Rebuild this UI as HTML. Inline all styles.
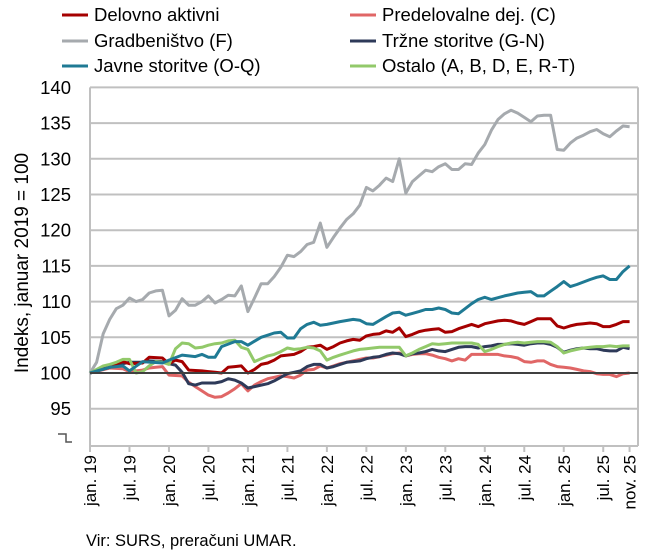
<!DOCTYPE html>
<html><head><meta charset="utf-8"><style>
body{margin:0;background:#fff;}
svg{display:block;font-family:"Liberation Sans",sans-serif;}
</style></head><body>
<svg id="s" width="651" height="556" viewBox="0 0 651 556" xmlns="http://www.w3.org/2000/svg">
<g font-size="18.5" fill="#000">
<line x1="62" y1="15" x2="88" y2="15" stroke="#a50000" stroke-width="3"/><text x="94" y="21">Delovno aktivni</text>
<line x1="350" y1="15" x2="376" y2="15" stroke="#e06666" stroke-width="3"/><text x="382" y="21">Predelovalne dej. (C)</text>
<line x1="62" y1="41" x2="88" y2="41" stroke="#a6aaae" stroke-width="3"/><text x="94" y="47">Gradbeništvo (F)</text>
<line x1="350" y1="41" x2="376" y2="41" stroke="#2e3a59" stroke-width="3"/><text x="382" y="47">Tržne storitve (G-N)</text>
<line x1="62" y1="66" x2="88" y2="66" stroke="#1f7a94" stroke-width="3"/><text x="94" y="72">Javne storitve (O-Q)</text>
<line x1="350" y1="66" x2="376" y2="66" stroke="#92c96a" stroke-width="3"/><text x="382" y="72">Ostalo (A, B, D, E, R-T)</text>
</g>
<g id="grid" stroke="#c0c0c0" stroke-width="2"></g>
<g id="ylab" font-size="18.5" text-anchor="end"></g>
<text transform="translate(28,263) rotate(-90)" font-size="19" text-anchor="middle">Indeks, januar 2019 = 100</text>
<path d="M58,434 L66,434 L66,442 L72,442" fill="none" stroke="#555" stroke-width="1.5"/>
<g id="series" fill="none" stroke-width="3" stroke-linejoin="round"></g>
<line x1="90" y1="373" x2="638" y2="373" stroke="#404040" stroke-width="2"/>
<g id="xlab" font-size="17"></g>
<text x="86" y="546" font-size="16.5">Vir: SURS, preračuni UMAR.</text>
</svg>
<script>
const NS="http://www.w3.org/2000/svg";
const X0=90,DX=6.58,Y100=373,K=7.14;
const X=m=>X0+m*DX, Y=v=>Y100-(v-100)*K;
function el(p,tag,a,t){const e=document.createElementNS(NS,tag);for(const k in a)e.setAttribute(k,a[k]);if(t)e.textContent=t;p.appendChild(e);return e;}
const grid=document.getElementById('grid'),yl=document.getElementById('ylab');
for(let v=95;v<=140;v+=5){el(grid,'line',{x1:90,x2:638,y1:Y(v),y2:Y(v)});el(yl,'text',{x:71,y:Y(v)+6.5},String(v));}
el(grid,'line',{x1:90,x2:90,y1:Y(140),y2:446});
el(grid,'line',{x1:638,x2:638,y1:Y(140),y2:446});
el(grid,'line',{x1:90,x2:638,y1:446,y2:446});
const xl=document.getElementById('xlab');
const labs=[];for(let y=19;y<=25;y++){labs.push([ (y-19)*12,'jan. '+y]);labs.push([(y-19)*12+6,'jul. '+y]);}
labs.push([82,'nov. 25']);
labs.forEach(([m,t])=>{el(grid,'line',{x1:X(m),x2:X(m),y1:446,y2:452});el(xl,'text',{transform:`translate(${X(m)+6},455) rotate(-90)`,'text-anchor':'end'},t);});
function S(str){const o={};str.trim().split(/[,\s]+/).forEach(p=>{const [a,b]=p.split(':');o[+a]=+b;});const ks=Object.keys(o).map(Number).sort((a,b)=>a-b);const r=[];for(let m=0;m<=82;m++){let i=ks.findIndex(k=>k>=m);if(ks[i]===m){r.push(o[m]);continue;}const a=ks[i-1],b=ks[i];r.push(o[a]+(o[b]-o[a])*(m-a)/(b-a));}return r;}
const data=[
["#e06666","0:100,3:100.7,5:100.6,6:100.2,8:100.4,9:100.7,11:100.9,12:99.7,14:99.6,15:98.7,17:97.5,18:96.9,19:96.6,20:96.7,21:97.2,22:97.8,23:98.5,24:97.5,25:98.3,26:98.8,27:99.2,28:99.4,29:99.6,30:99.5,31:99.3,32:99.7,33:100.4,34:100.5,35:101,36:100.7,37:101,38:101.3,39:101.5,40:101.7,41:101.9,42:102.1,43:102.1,44:102.3,45:102.5,46:102.7,47:102.8,48:102.4,49:102.6,50:102.7,51:102.7,52:102.5,53:102.2,54:102,55:101.7,56:102,57:101.8,58:102.6,59:102.6,60:102.6,61:102.6,62:102.6,63:102.4,64:102.3,65:102.1,66:101.6,67:101.5,68:101.7,69:101.7,70:101.2,71:100.9,72:100.8,73:100.7,74:100.5,75:100.3,76:100.2,77:99.9,78:99.8,79:99.8,80:99.5,81:99.9,82:100"],
["#a6aaae","0:100,1:101.5,2:105.5,3:107.5,4:109,5:109.5,6:110.5,7:110,8:110.3,9:111.2,10:111.5,11:111.6,12:108,13:108.8,14:110.4,15:109.5,16:109.5,17:110,18:110.8,19:109.8,20:110.3,21:110.9,22:110.8,23:112.2,24:108.6,25:110.5,26:112.5,27:112.5,28:113.5,29:114.8,30:116.5,31:116.3,32:117,33:118,34:118.3,35:121,36:117.6,37:119,38:120.3,39:121.5,40:122.3,41:123.5,42:126,43:125.5,44:126.3,45:127.3,46:126.8,47:130,48:125.2,49:126.8,50:127.6,51:128.4,52:128.2,53:128.9,54:129.3,55:128.5,56:128.5,57:129.3,58:129.2,59:130.8,60:132,61:134,62:135.5,63:136.3,64:136.8,65:136.4,66:135.8,67:135.2,68:136,69:136.1,70:136.1,71:131.3,72:131.2,73:132.2,74:132.9,75:133.3,76:133.8,77:134.1,78:133.5,79:133.1,80:133.9,81:134.6,82:134.5"],
["#2e3a59","0:100,3:100.8,5:101.3,6:101.5,8:101.5,9:101.7,11:101.6,12:101.3,13:101.1,14:100.1,15:98.5,16:98.3,17:98.6,19:98.6,20:98.8,21:99.2,22:99,23:98.6,24:97.9,26:98.3,27:98.5,28:98.9,29:99.4,30:99.9,31:100.1,32:100.3,33:100.9,34:101.2,35:101.2,36:100.7,37:100.9,38:101.2,39:101.5,40:101.6,41:101.7,42:102,43:102.2,44:102.3,45:102.6,46:102.8,47:102.7,48:102.4,49:102.7,50:102.8,51:103,52:103.3,53:103.1,54:103,55:103.3,56:103.6,57:103.7,58:103.7,59:103.5,60:103.7,61:103.8,62:104,63:104,64:104.1,65:104,66:103.9,67:104.1,68:104.2,69:104.2,70:104,71:103.6,72:102.9,73:103.2,74:103.4,75:103.5,76:103.4,77:103.4,78:103.2,79:103.1,80:103.1,81:103.6,82:103.4"],
["#a50000","0:100,3:101,5:101.6,6:101.3,8:101.4,9:102.2,11:102.1,12:101.3,13:101.8,14:101.6,15:100.4,17:100.3,19:100.1,20:100,21:100.8,22:100.9,23:101,24:100,25:100.5,26:101.2,27:101.4,28:101.8,29:102.4,30:102.5,31:102.6,32:103,33:103.6,34:103.7,35:103.9,36:103.3,37:103.7,38:104.2,39:104.5,40:104.7,41:104.6,42:105.2,43:105.4,44:105.5,45:105.9,46:105.7,47:106.3,48:105.1,49:105.4,50:105.8,51:106,52:106.1,53:106.2,54:105.7,55:105.8,56:106.2,57:106.5,58:106.8,59:106.5,60:106.9,61:107.1,62:107.3,63:107.4,64:107.3,65:107,66:106.8,67:107.2,68:107.6,69:107.6,70:107.6,71:106.6,72:106.3,73:106.6,74:106.8,75:106.9,76:107,77:106.9,78:106.5,79:106.5,80:106.8,81:107.2,82:107.2"],
["#92c96a","0:100,2:101,3:101.2,4:101.5,5:101.9,6:101.9,7:100,8:100.2,9:101,10:101.6,11:101.5,12:101.2,13:103.4,14:104.2,15:104.1,16:103.5,17:103.6,18:103.9,19:104.1,20:104.2,21:104.5,22:104.6,23:103.6,24:103.3,25:101.6,26:102,27:102.4,28:102.6,29:103,30:103.5,31:103.3,32:103.4,33:103.6,34:103.5,35:103.1,36:101.8,37:102.2,38:102.5,39:102.8,40:103.1,41:103.3,42:103.4,43:103.5,44:103.6,45:103.6,46:103.6,47:103.6,48:102.4,49:102.8,50:103.3,51:103.7,52:104.1,53:104,54:104.1,55:104.2,56:104.2,57:104.2,58:104.2,59:104,60:103,61:103.3,62:103.7,63:104,64:104.2,65:104.3,66:104.2,67:104.3,68:104.4,69:104.4,70:104.3,71:103.7,72:102.8,73:103.1,74:103.3,75:103.5,76:103.6,77:103.7,78:103.7,79:103.8,80:103.7,81:103.8,82:103.8"],
["#1f7a94","0:100,3:100.8,5:101,6:100.3,8:101.6,11:101.4,12:101.8,14:102.5,16:102.3,17:102.6,18:102.2,19:102.2,20:103.7,22:104.4,23:104.4,24:103.9,26:105,28:105.6,29:105.7,30:104.9,31:104.9,32:106.2,33:106.8,34:107.1,35:106.7,36:106.8,38:107.2,40:107.5,41:107.4,42:106.9,43:106.8,45:107.9,46:108.4,47:108.5,48:108.1,50:108.6,51:108.9,52:108.9,53:109.1,54:108.9,55:108.4,56:108.3,58:109.7,59:110.3,60:110.6,61:110.3,63:110.8,65:111.2,67:111.4,68:110.8,69:110.8,71:112.1,72:112.8,73:112.1,74:112.4,76:113.1,77:113.4,78:113.6,79:113.1,80:113.1,81:114.2,82:115"]
];
const sg=document.getElementById('series');
data.forEach(([c,s])=>{const v=S(s);el(sg,'polyline',{stroke:c,points:v.map((y,i)=>X(i).toFixed(1)+','+Y(y).toFixed(1)).join(' ')});});
</script>
</body></html>
